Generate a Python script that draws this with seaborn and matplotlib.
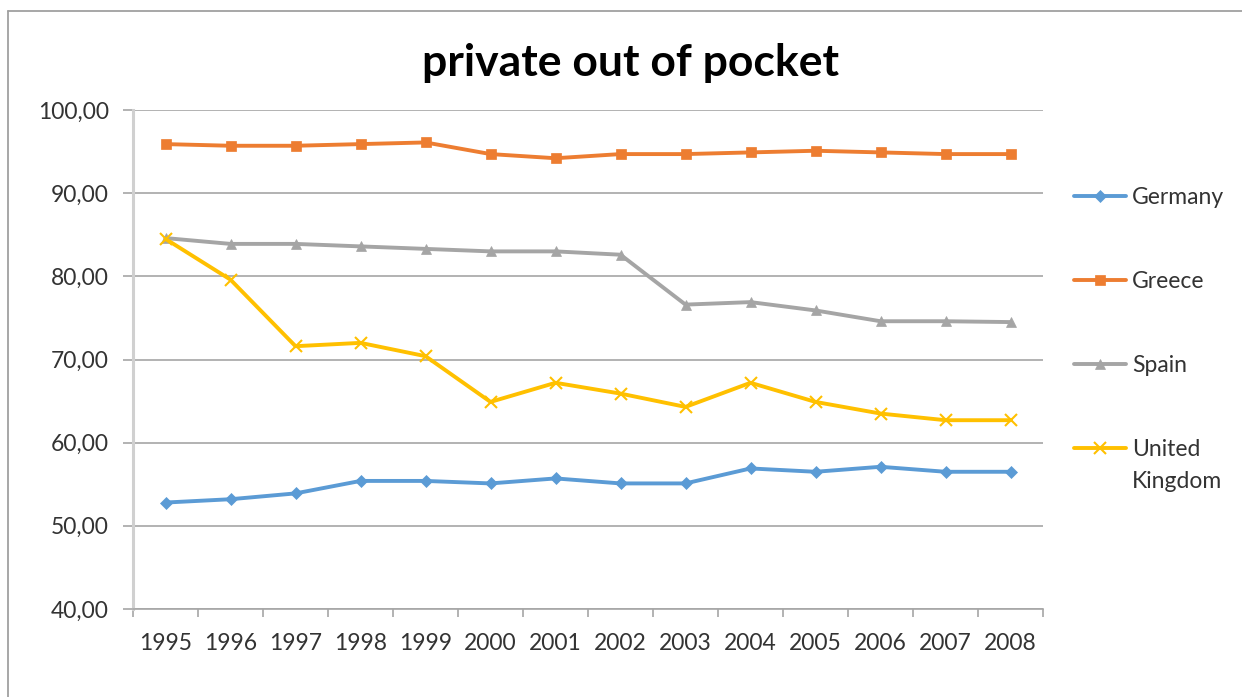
import numpy as np
import pandas as pd
import matplotlib
matplotlib.use("Agg")
import matplotlib.pyplot as plt
from matplotlib.lines import Line2D
import seaborn as sns

years = ["1995", "1996", "1997", "1998", "1999", "2000", "2001",
         "2002", "2003", "2004", "2005", "2006", "2007", "2008"]
germany = [52.8, 53.2, 53.9, 55.4, 55.4, 55.1, 55.7, 55.1, 55.1, 56.9, 56.5, 57.1, 56.5, 56.5]
greece = [95.9, 95.7, 95.7, 95.9, 96.1, 94.7, 94.2, 94.7, 94.7, 94.9, 95.1, 94.9, 94.7, 94.7]
spain = [84.6, 83.9, 83.9, 83.6, 83.3, 83.0, 83.0, 82.6, 76.6, 76.9, 75.9, 74.6, 74.6, 74.5]
uk = [84.5, 79.6, 71.6, 72.0, 70.4, 64.9, 67.2, 65.9, 64.3, 67.2, 64.9, 63.5, 62.7, 62.7]
countries = ["Germany", "Greece", "Spain", "United Kingdom"]
title = "private out of pocket"
yticks = [40, 50, 60, 70, 80, 90, 100]

colors = {"Germany": "#5B9BD5", "Greece": "#ED7D31", "Spain": "#A5A5A5", "United Kingdom": "#FFC000"}
markers = {"Germany": "D", "Greece": "s", "Spain": "^", "United Kingdom": "x"}
msizes = {"Germany": 6, "Greece": 7, "Spain": 7, "United Kingdom": 8}

rows = []
for c, vals in zip(countries, [germany, greece, spain, uk]):
    for i, (y, v) in enumerate(zip(years, vals)):
        rows.append({"country": c, "pos": i, "year": y, "value": v})
df = pd.DataFrame(rows)

sns.set_theme(style="white")
plt.rcParams["font.family"] = ["Lato", "DejaVu Sans"]

W, H = 1242, 697
fig = plt.figure(figsize=(W/100, H/100), dpi=100)
ax = fig.add_axes([133/W, 1 - 609/H, (1043-133)/W, (609-110)/H])

for c in countries:
    sub = df[df.country == c]
    sns.lineplot(data=sub, x="pos", y="value", ax=ax, color=colors[c], lw=2.8,
                 marker=markers[c], markersize=msizes[c], markeredgecolor=colors[c],
                 markeredgewidth=1.5 if c == "United Kingdom" else 0.5, label=c, legend=False)

ax.set_xlim(-0.5, len(years) - 0.5)
ax.set_ylim(40, 100)
ax.set_xlabel("")
ax.set_ylabel("")
ax.set_yticks(yticks)
ax.set_yticklabels([f"{v:.2f}".replace(".", ",") for v in yticks])
ax.set_xticks(range(len(years)))
ax.set_xticklabels(years)
ax.set_xticks(np.arange(-0.5, len(years), 1.0), minor=True)
ax.grid(axis="y", color="#a6a6a6", lw=1.2)
ax.grid(axis="x", visible=False)
ax.set_axisbelow(True)
for s in ["top", "right"]:
    ax.spines[s].set_visible(False)
ax.spines["left"].set_color("#d0d0d0")
ax.spines["left"].set_linewidth(2.2)
ax.spines["bottom"].set_color("#a6a6a6")
ax.spines["bottom"].set_linewidth(1.2)
ax.tick_params(axis="y", which="major", length=7.5, width=1.2, color="#a6a6a6",
               pad=10, labelsize=16.5, labelcolor="#333333", left=True)
ax.tick_params(axis="x", which="major", length=0, pad=17, labelsize=16.5, labelcolor="#333333")
ax.tick_params(axis="x", which="minor", length=6, width=1.2, color="#a6a6a6", bottom=True)

fig.text(631/W, 1 - 63/H, title, ha="center", va="center", fontsize=32, fontweight="bold", color="black")

handles = [Line2D([0], [0], color=colors[c], lw=2.8, marker=markers[c], markersize=msizes[c],
                  markeredgecolor=colors[c], markeredgewidth=1.5 if c == "United Kingdom" else 0.5)
           for c in countries]
labels = ["Germany", "Greece", "Spain", "United"]
leg = fig.legend(handles, labels, loc="upper left", bbox_to_anchor=(1053/W, 1 - 166/H),
                 frameon=False, fontsize=16.5, labelspacing=2.76, handlelength=2.3, handletextpad=0.25,
                 labelcolor="#333333")

fig.canvas.draw()
t = leg.get_texts()[-1]
bb = t.get_window_extent(fig.canvas.get_renderer())
fig.text(bb.x0 / W, (bb.y0 + bb.height / 2 - 32) / H,
         "Kingdom", ha="left", va="center", fontsize=16.5, color="#333333")

fig.add_artist(Line2D([8/W, 8/W], [0, 1 - 11/H], transform=fig.transFigure, color="#a0a0a0", lw=1.3))
fig.add_artist(Line2D([8/W, 1], [1 - 11/H, 1 - 11/H], transform=fig.transFigure, color="#a0a0a0", lw=1.3))

fig.savefig("out.png", dpi=100)
